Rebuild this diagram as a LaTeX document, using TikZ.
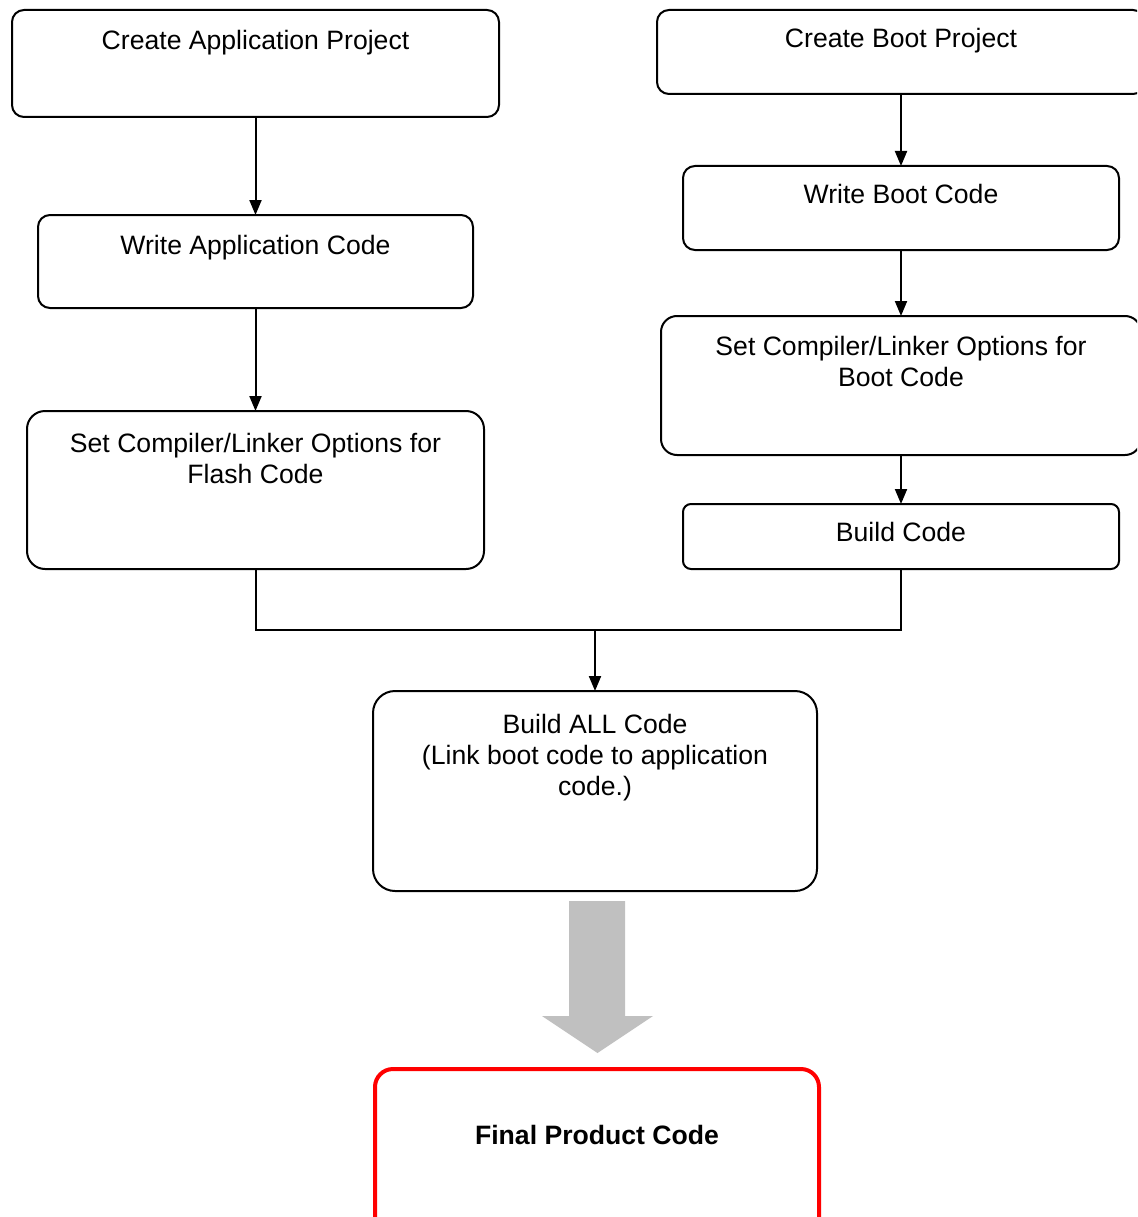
\documentclass[tikz,border=0pt]{standalone}
\usepackage{fontspec}
\setmainfont{Liberation Sans}
\usetikzlibrary{arrows.meta}
\definecolor{arrowgray}{HTML}{C0C0C0}
\definecolor{finalred}{HTML}{FF0000}
\begin{document}
\begin{tikzpicture}[x=1pt,y=-1pt,
  box/.style={draw, line width=2pt, rounded corners=12pt, inner sep=0pt, outer sep=0pt},
  txt/.style={font=\fontsize{26.6}{31}\selectfont, align=center, inner sep=0pt, anchor=base},
  conn/.style={line width=2pt, -{Triangle[length=15pt,width=12pt]}},
  plain/.style={line width=2pt}]
\useasboundingbox (0,0) rectangle (1137,1217);
\clip (0,0) rectangle (1137,1217);
\fill[white] (0,0) rectangle (1137,1217);

% boxes
\node[box, minimum width=487pt, minimum height=107pt] (cap) at (255.5,63.5) {};
\node[box, minimum width=488pt, minimum height=84pt] (cbp) at (901,52) {};
\node[box, minimum width=435pt, minimum height=93pt] (wac) at (255.5,261.5) {};
\node[box, minimum width=436pt, minimum height=84pt] (wbc) at (901,208) {};
\node[box, rounded corners=18pt, minimum width=457pt, minimum height=158pt] (sfc) at (255.5,490) {};
\node[box, rounded corners=16pt, minimum width=480pt, minimum height=139pt] (sbc) at (901,385.5) {};
\node[box, rounded corners=8pt, minimum width=436pt, minimum height=65pt] (bc) at (901,536.5) {};
\node[box, rounded corners=22pt, minimum width=444pt, minimum height=200pt] (ball) at (595,791) {};
\node[box, draw=finalred, line width=4pt, rounded corners=18pt, minimum width=444pt, minimum height=166pt] (fpc) at (597,1152) {};

% texts (anchor=base sits on the last line's baseline)
\node[txt] (tcap) at (255.5,50) {Create Application Project};
\node[txt] (tcbp) at (901,48) {Create Boot Project};
\node[txt] (twac) at (255.5,254) {Write Application Code};
\node[txt] (twbc) at (901,204) {Write Boot Code};
\node[txt] (tsfc) at (255.5,483) {Set Compiler/Linker Options for\\Flash Code};
\node[txt] (tsbc) at (901,386) {Set Compiler/Linker Options for\\Boot Code};
\node[txt] (tbc) at (901,541) {Build Code};
\node[txt] (tball) at (595,795) {Build ALL Code\\(Link boot code to application\\code.)};
\node[txt, font=\fontsize{26.6}{31}\selectfont\bfseries] (tfpc) at (597,1144) {Final Product Code};

% connectors
\draw[conn] (cap.south) -- (wac.north);
\draw[conn] (wac.south) -- (sfc.north);
\draw[conn] (cbp.south) -- (wbc.north);
\draw[conn] (wbc.south) -- (sbc.north);
\draw[conn] (sbc.south) -- (bc.north);
\coordinate (m) at (595,630);
\draw[plain] (sfc.south) |- (m) -| (bc.south);
\draw[conn] (m) -- (ball.north);

% block arrow
\fill[arrowgray] (569,901) -- (625,901) -- (625,1016) -- (653,1016) -- (597.5,1053) -- (542,1016) -- (569,1016) -- cycle;
\end{tikzpicture}
\end{document}
